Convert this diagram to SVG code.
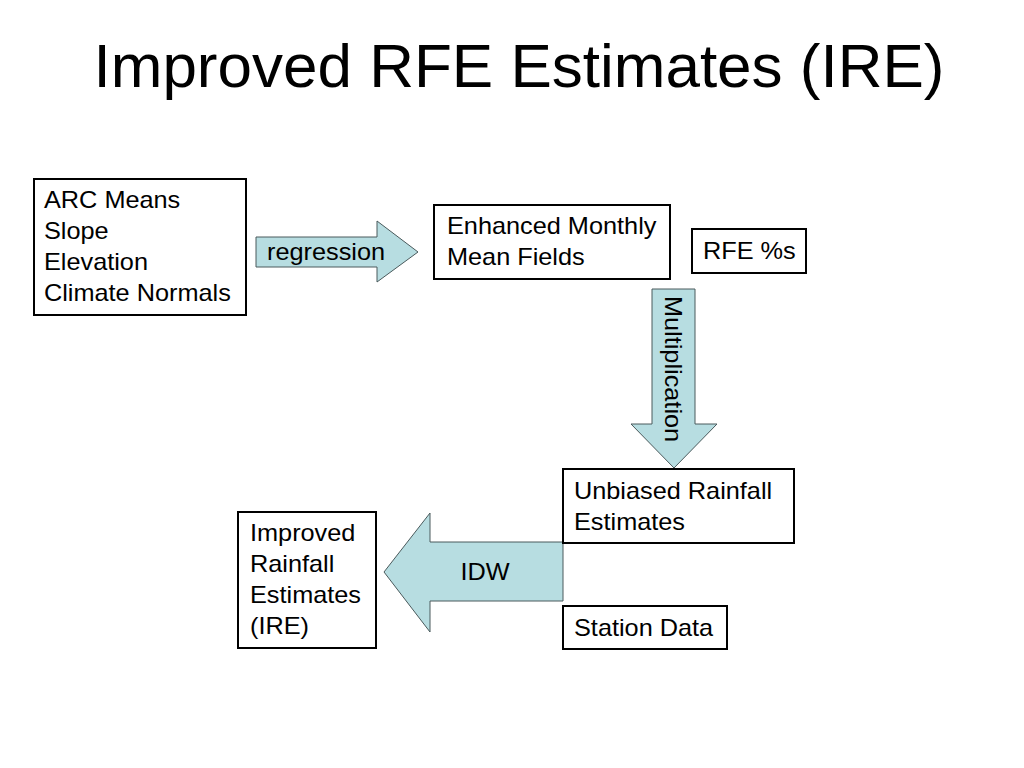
<svg xmlns="http://www.w3.org/2000/svg" width="1024" height="768" viewBox="0 0 1024 768">
<style>
.box{fill:#ffffff;stroke:#000000;stroke-width:2}
.arr{fill:#b7dde1;stroke:#4a5a5c;stroke-width:1}
.t{font-family:"Liberation Sans",Arial,sans-serif;font-size:23px;fill:#000000}
.title{font-family:"Liberation Sans",Arial,sans-serif;font-size:62px;fill:#000000}
</style>
<rect width="1024" height="768" fill="#ffffff"/>
<text class="title" x="519" y="87" text-anchor="middle">Improved RFE Estimates (IRE)</text>
<g id="connectors">
<g id="regression-arrow">
<polygon class="arr" points="256,237 377,237 377,221 418,252 377,282 377,267 256,267"/>
<text class="t" transform="translate(267,260) scale(1.1,1)">regression</text>
</g>
<g id="multiplication-arrow">
<polygon class="arr" points="652,289 695,289 695,424 717,424 674,468 631,424 652,424"/>
<text class="t" transform="translate(665,296) rotate(90) scale(1.1,1)">Multiplication</text>
</g>
<g id="idw-arrow">
<polygon class="arr" points="563,542 430,542 430,513 384,572 430,632 430,601 563,601"/>
<text class="t" transform="translate(485,580) scale(1.1,1)" text-anchor="middle">IDW</text>
</g>
</g>
<g id="arc-inputs">
<rect class="box" x="34" y="179" width="212" height="136"/>
<text class="t" transform="translate(44,208) scale(1.1,1)"><tspan x="0" y="0">ARC Means</tspan><tspan x="0" y="31">Slope</tspan><tspan x="0" y="62">Elevation</tspan><tspan x="0" y="93">Climate Normals</tspan></text>
</g>
<g id="enhanced-monthly">
<rect class="box" x="434" y="205" width="236" height="74"/>
<text class="t" transform="translate(447,234) scale(1.1,1)"><tspan x="0" y="0">Enhanced Monthly</tspan><tspan x="0" y="31">Mean Fields</tspan></text>
</g>
<g id="rfe-percent">
<rect class="box" x="692" y="229" width="114" height="44"/>
<text class="t" transform="translate(703,259) scale(1.1,1)">RFE %s</text>
</g>
<g id="unbiased">
<rect class="box" x="563" y="469" width="231" height="74"/>
<text class="t" transform="translate(574,499) scale(1.1,1)"><tspan x="0" y="0">Unbiased Rainfall</tspan><tspan x="0" y="31">Estimates</tspan></text>
</g>
<g id="station-data">
<rect class="box" x="563" y="606" width="164" height="43"/>
<text class="t" transform="translate(574,636) scale(1.1,1)">Station Data</text>
</g>
<g id="improved">
<rect class="box" x="238" y="512" width="138" height="136"/>
<text class="t" transform="translate(250,541) scale(1.1,1)"><tspan x="0" y="0">Improved</tspan><tspan x="0" y="31">Rainfall</tspan><tspan x="0" y="62">Estimates</tspan><tspan x="0" y="93">(IRE)</tspan></text>
</g>
</svg>
